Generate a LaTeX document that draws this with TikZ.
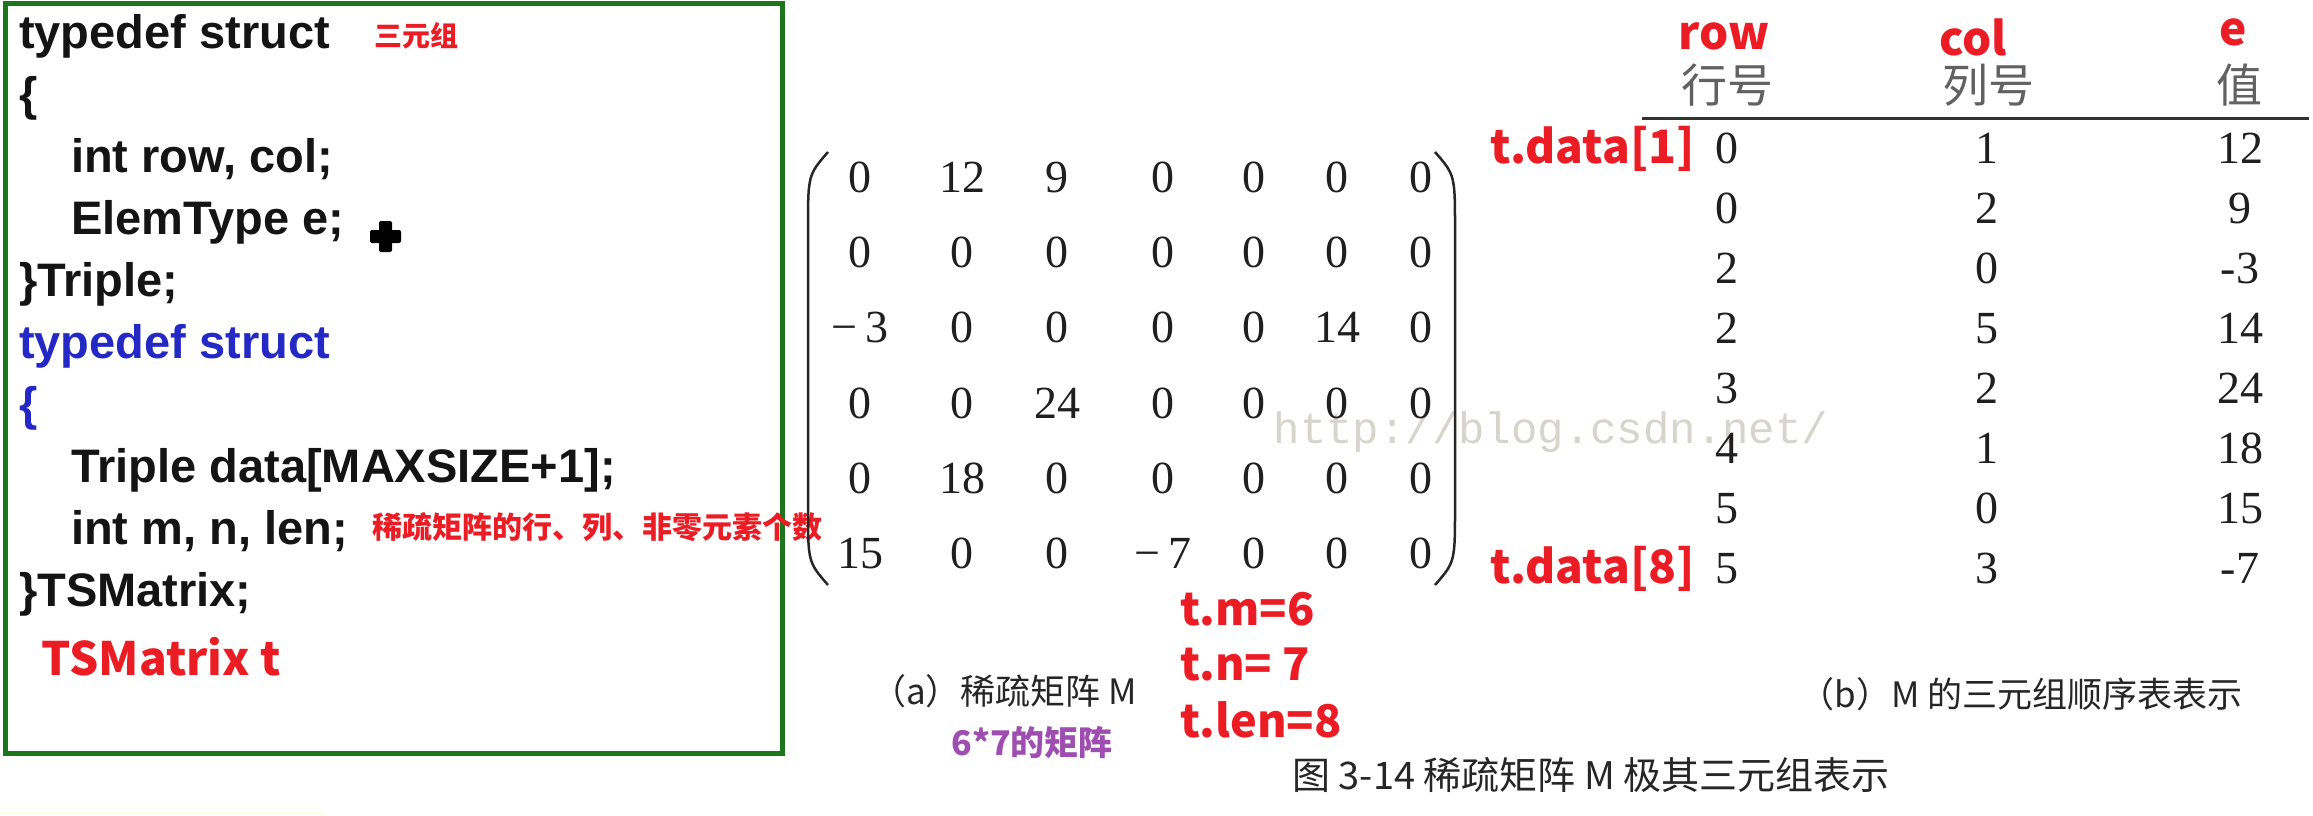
\documentclass[tikz,border=0pt]{standalone}
\usepackage{fontspec}
\setmainfont{Liberation Sans}
\newfontfamily\cjk{Noto Sans CJK SC}
\newfontfamily\numfont{Liberation Serif}
\newfontfamily\wmfont{Liberation Mono}

\definecolor{boxgreen}{RGB}{28,118,28}
\definecolor{hlred}{RGB}{236,28,36}
\definecolor{kwblue}{RGB}{36,40,196}
\definecolor{dimpurple}{RGB}{158,78,176}
\definecolor{wmgrey}{RGB}{214,212,204}

\begin{document}
\begin{tikzpicture}[x=1pt,y=-1pt,
  code/.style={anchor=base west, inner sep=0pt, text=black!92, font=\fontsize{47}{56}\selectfont\bfseries},
  hl/.style={inner sep=0pt, text=hlred, font=\cjk\bfseries\fontsize{#1}{#1}\selectfont},
  numcell/.style={inner sep=0pt, text height=31pt, text depth=0pt, text=black!88, font=\numfont\fontsize{46}{50}\selectfont},
  head/.style={inner sep=0pt, text=black!62, font=\cjk\fontsize{46}{50}\selectfont},
  caption/.style={inner sep=0pt, text=black!85, font=\cjk\fontsize{#1}{#1}\selectfont}]

\useasboundingbox (0,0) rectangle (2313,815);
\fill[white] (0,0) rectangle (2313,815);

% code panel
\draw[boxgreen, line width=5pt] (5,3) rectangle (782,753);
\draw[yellow!12, line width=2pt] (0,813) -- (325,813);

\node[code] (l1) at (19,48) {typedef struct};
\node[code] (l2) at (19,110) {\{};
\node[code] (l3) at (71,172) {int row, col;};
\node[code] (l4) at (71,234) {ElemType e;};
\node[code] (l5) at (19,296) {\}Triple;};
\node[code, text=kwblue] (l6) at (19,358) {typedef struct};
\node[code, text=kwblue] (l7) at (19,420) {\{};
\node[code] (l8) at (71,482) {Triple data[MAXSIZE+1];};
\node[code] (l9) at (71,544) {int m, n, len;};
\node[code] (l10) at (19,606) {\}TSMatrix;};

\node[hl=28] (triple) at (416,36) {三元组};
\node[hl=30, anchor=west] (dims) at (372,527) {稀疏矩阵的行、列、非零元素个数};
\node[hl=46, anchor=base west] (tvar) at (41,675) {TSMatrix t};

% cursor
\fill[black, rounded corners=2pt] (379,221) rectangle (392,252);
\fill[black, rounded corners=2pt] (370,230) rectangle (401,243);

% watermark
\node[inner sep=0pt, text=wmgrey, font=\wmfont\fontsize{44}{48}\selectfont] (wm) at (1551,432) {http://blog.csdn.net/};

% sparse matrix
\draw[black!85, line width=2.5pt] (828,152) .. controls (808,175) .. (808,230) -- (808,507) .. controls (808,562) .. (828,585);
\draw[black!85, line width=2.5pt] (1435,152) .. controls (1455,175) .. (1455,230) -- (1455,507) .. controls (1455,562) .. (1435,585);

\foreach \vals [count=\r] in {{0,12,9,0,0,0,0},{0,0,0,0,0,0,0},{−\,3,0,0,0,0,14,0},{0,0,24,0,0,0,0},{0,18,0,0,0,0,0},{15,0,0,−\,7,0,0,0}}
  \foreach \v [count=\c] in \vals {
    \pgfmathsetmacro\mx{{860,962,1057,1163,1254,1337,1421}[\c-1]}
    \node[numcell] (m-\r-\c) at (\mx,{177+75.2*(\r-1)}) {\v};
  }

\node[caption=35] (capa) at (1004,691) {（a）稀疏矩阵 M};
\node[hl=34, text=dimpurple] (size) at (1032,743) {6*7的矩阵};

\node[hl=45, anchor=base west] (tm) at (1180,625) {t.m=6};
\node[hl=45, anchor=base west] (tn) at (1180,680) {t.n= 7};
\node[hl=45, anchor=base west] (tlen) at (1180,737) {t.len=8};

% triple table
\node[hl=46, anchor=base] (hrow) at (1724,49) {row};
\node[hl=46, anchor=base] (hcol) at (1973,55) {col};
\node[hl=46, anchor=base] (hval) at (2233,45) {e};
\node[head] (crow) at (1727,85) {行号};
\node[head] (ccol) at (1988,85) {列号};
\node[head] (cval) at (2239,85) {值};
\draw[black!80, line width=3pt] (1642,118) -- (2309,118);

\foreach \a/\b/\v [count=\r] in {0/1/12,0/2/9,2/0/-3,2/5/14,3/2/24,4/1/18,5/0/15,5/3/-7} {
  \node[numcell] (t-\r-1) at (1727,{148+60*(\r-1)}) {\a};
  \node[numcell] (t-\r-2) at (1987,{148+60*(\r-1)}) {\b};
  \node[numcell] (t-\r-3) at (2240,{148+60*(\r-1)}) {\v};
}

\node[hl=46, anchor=base east] (first) at (1695,163) {t.data[1]};
\node[hl=46, anchor=base east] (last) at (1695,583) {t.data[8]};

\node[caption=35] (capb) at (2021,694) {（b）M 的三元组顺序表表示};
\node[caption=38] (fig) at (1591,775) {图 3-14 稀疏矩阵 M 极其三元组表示};

\end{tikzpicture}
\end{document}
